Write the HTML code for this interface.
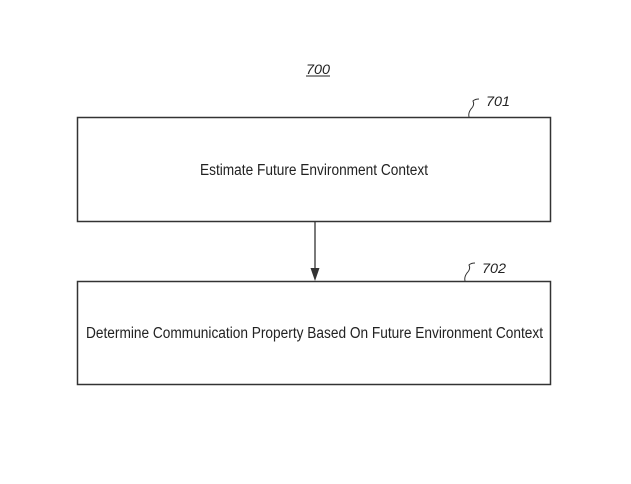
<!DOCTYPE html>
<html><head><style>html,body{margin:0;padding:0;background:#fff}svg{display:block}</style></head>
<body>
<svg width="631" height="484" viewBox="0 0 631 484" xmlns="http://www.w3.org/2000/svg" font-family="Liberation Sans, sans-serif" fill="#222">
<text x="306" y="74" font-size="14" font-style="italic" textLength="24" lengthAdjust="spacingAndGlyphs">700</text>
<line x1="306" y1="76" x2="330" y2="76" stroke="#222" stroke-width="1"/>
<rect x="77.5" y="117.5" width="473" height="104" fill="none" stroke="#333" stroke-width="1.5"/>
<text x="200" y="175" font-size="15.5" textLength="228" lengthAdjust="spacingAndGlyphs">Estimate Future Environment Context</text>
<path d="M469 117 q-1 -4 2 -8 q4 -4 2 -8 q2 -2 6 -2" fill="none" stroke="#333" stroke-width="1"/>
<text x="486" y="106" font-size="14" font-style="italic" textLength="24" lengthAdjust="spacingAndGlyphs">701</text>
<line x1="315" y1="222" x2="315" y2="270" stroke="#333" stroke-width="1.3"/>
<polygon points="310.5,268 319.5,268 315,281" fill="#333"/>
<rect x="77.5" y="281.5" width="473" height="103" fill="none" stroke="#333" stroke-width="1.5"/>
<text x="86" y="338" font-size="15.5" textLength="457" lengthAdjust="spacingAndGlyphs">Determine Communication Property Based On Future Environment Context</text>
<path d="M465 281 q-1 -4 2 -8 q4 -4 2 -8 q2 -2 6 -2" fill="none" stroke="#333" stroke-width="1"/>
<text x="482" y="273" font-size="14" font-style="italic" textLength="24" lengthAdjust="spacingAndGlyphs">702</text>
</svg>
</body></html>
